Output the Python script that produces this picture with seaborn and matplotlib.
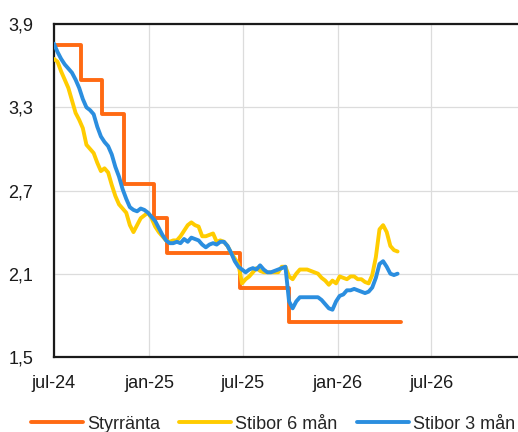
import numpy as np
import pandas as pd
import matplotlib
matplotlib.use("Agg")
from matplotlib import pyplot as plt
from matplotlib.ticker import FuncFormatter
import seaborn as sns

# policy rate steps (date the new level takes effect)
styr_dates = ["2024-07-01", "2024-08-23", "2024-10-03", "2024-11-14", "2025-01-10",
              "2025-02-05", "2025-06-26", "2025-09-29", "2026-05-04"]
styr_values = [3.75, 3.50, 3.25, 2.75, 2.50, 2.25, 2.00, 1.75, 1.75]

# weekly Stibor readings, Mondays from 2024-07-01
stibor_start = "2024-07-01"
stibor_3m = [3.76, 3.70, 3.65, 3.61, 3.58, 3.55, 3.50, 3.44, 3.36, 3.30,
             3.28, 3.25, 3.16, 3.09, 3.05, 3.02, 2.96, 2.87, 2.80, 2.71,
             2.64, 2.58, 2.56, 2.55, 2.57, 2.56, 2.54, 2.51, 2.48, 2.43,
             2.38, 2.34, 2.32, 2.32, 2.33, 2.32, 2.35, 2.33, 2.36, 2.35,
             2.34, 2.31, 2.29, 2.31, 2.32, 2.31, 2.33, 2.33, 2.30, 2.25,
             2.19, 2.15, 2.13, 2.11, 2.13, 2.14, 2.13, 2.16, 2.13, 2.11,
             2.11, 2.12, 2.13, 2.14, 2.15, 1.90, 1.85, 1.90, 1.93, 1.93,
             1.93, 1.93, 1.93, 1.93, 1.91, 1.88, 1.85, 1.84, 1.90, 1.94,
             1.95, 1.98, 1.98, 1.99, 1.98, 1.97, 1.96, 1.97, 2.00, 2.07,
             2.17, 2.19, 2.15, 2.10, 2.09, 2.10]
stibor_6m = [3.65, 3.63, 3.56, 3.50, 3.44, 3.35, 3.26, 3.21, 3.15, 3.03,
             3.00, 2.97, 2.90, 2.84, 2.86, 2.83, 2.74, 2.66, 2.60, 2.57,
             2.54, 2.45, 2.40, 2.45, 2.50, 2.52, 2.54, 2.50, 2.44, 2.40,
             2.37, 2.34, 2.33, 2.34, 2.34, 2.37, 2.41, 2.45, 2.47, 2.45,
             2.44, 2.37, 2.37, 2.38, 2.39, 2.33, 2.34, 2.33, 2.30, 2.25,
             2.21, 2.17, 2.03, 2.06, 2.08, 2.11, 2.14, 2.12, 2.11, 2.11,
             2.11, 2.11, 2.11, 2.15, 2.15, 2.08, 2.06, 2.10, 2.13, 2.13,
             2.13, 2.12, 2.11, 2.10, 2.07, 2.05, 2.02, 2.05, 2.03, 2.08,
             2.07, 2.06, 2.08, 2.08, 2.06, 2.06, 2.04, 2.03, 2.09, 2.22,
             2.42, 2.45, 2.40, 2.30, 2.27, 2.26]

tick_dates = ["2024-07-01", "2025-01-01", "2025-07-01", "2026-01-01", "2026-07-01"]
tick_labels = ["jul-24", "jan-25", "jul-25", "jan-26", "jul-26"]
y_ticks = [1.5, 2.1, 2.7, 3.3, 3.9]

c_styr = "#FF6A13"
c_6m = "#FFCC00"
c_3m = "#2B8EDF"

sns.set_style("white")
plt.rcParams["font.family"] = ["Liberation Sans", "DejaVu Sans"]

df_styr = pd.DataFrame({"date": pd.to_datetime(styr_dates), "value": styr_values})
weeks = pd.date_range(stibor_start, periods=len(stibor_3m), freq="7D")
df_3m = pd.DataFrame({"date": weeks, "value": stibor_3m})
df_6m = pd.DataFrame({"date": weeks, "value": stibor_6m})

fig = plt.figure(figsize=(5.18, 4.32), dpi=100)
ax = fig.add_axes([0.104, 0.174, 0.896, 0.770])

sns.lineplot(data=df_styr, x="date", y="value", ax=ax, color=c_styr, lw=2.8,
             drawstyle="steps-post", label="Styrränta", zorder=3)
sns.lineplot(data=df_6m, x="date", y="value", ax=ax, color=c_6m, lw=2.8,
             label="Stibor 6 mån", zorder=4)
sns.lineplot(data=df_3m, x="date", y="value", ax=ax, color=c_3m, lw=2.8,
             label="Stibor 3 mån", zorder=5)

ax.set_xlim(pd.Timestamp("2024-07-01"), pd.Timestamp("2026-12-16"))
ax.set_ylim(1.5, 3.9)
ax.set_xticks(pd.to_datetime(tick_dates))
ax.set_xticklabels(tick_labels)
ax.set_yticks(y_ticks)
ax.yaxis.set_major_formatter(FuncFormatter(lambda v, p: f"{v:.1f}".replace(".", ",")))
ax.tick_params(axis="both", length=0, labelsize=13, colors="#1a1a1a")
ax.tick_params(axis="y", pad=15)
ax.tick_params(axis="x", pad=13)
ax.set_xlabel("")
ax.set_ylabel("")
ax.grid(True, color="#dcdcdc", lw=0.9)
ax.set_axisbelow(True)
for s in ["left", "bottom", "top"]:
    ax.spines[s].set_color("#1a1a1a")
    ax.spines[s].set_linewidth(1.6)
ax.spines["right"].set_visible(False)

handles, labels = ax.get_legend_handles_labels()
ax.get_legend().remove()
fig.legend(handles, labels, loc="center", bbox_to_anchor=(0.527, 0.018), ncol=3,
           frameon=False, fontsize=13, handlelength=2.9, handletextpad=0.22,
           columnspacing=1.05)

fig.savefig("out.png", dpi=100)
